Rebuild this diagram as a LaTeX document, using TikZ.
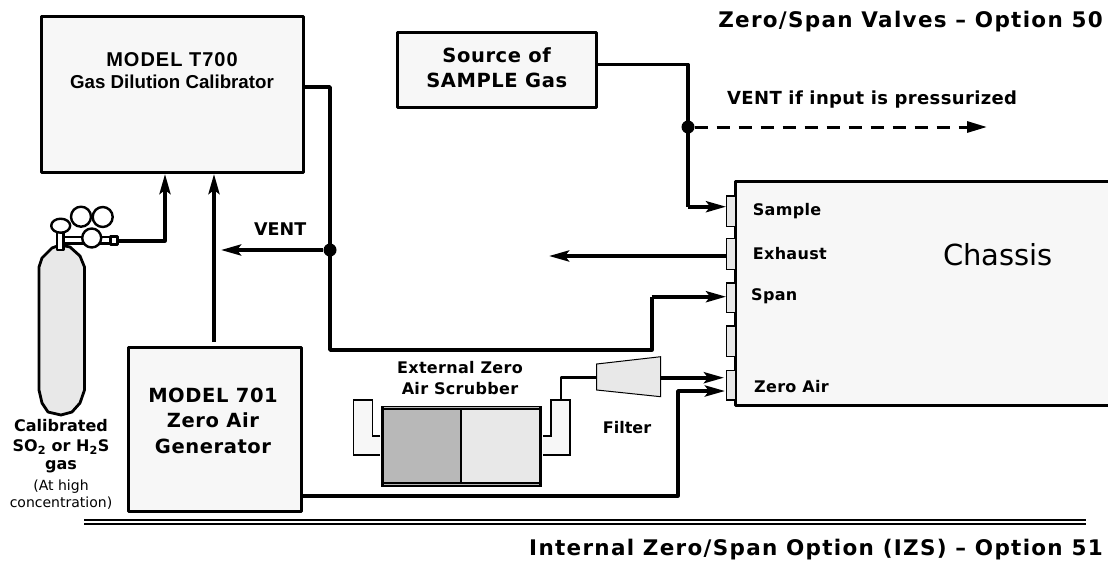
\documentclass[tikz,border=0pt]{standalone}
\usepackage{fontspec}
\setmainfont{DejaVu Sans}
\newfontfamily\arialf{Liberation Sans}
\usetikzlibrary{arrows.meta}
\definecolor{boxfill}{HTML}{F7F7F7}
\definecolor{lightgas}{HTML}{E8E8E8}
\definecolor{darkgas}{HTML}{B8B8B8}
\newcommand{\fs}[1]{\fontsize{#1}{#1}\selectfont}
\newcommand{\ls}[1]{\addfontfeature{LetterSpace=#1}}
\tikzset{
  box/.style={draw=black,line width=3pt,fill=boxfill,inner sep=0pt,line join=round},
  portbox/.style={draw=black,line width=1.3pt,fill=lightgas,inner sep=0pt,minimum width=8.5pt},
  lbl/.style={inner sep=0pt,align=center},
  pipe/.style={draw=black,line width=3.7pt,line join=round},
  flow/.style={pipe,-{Stealth[length=20pt,width=11pt,inset=4pt]}},
  thin pipe/.style={draw=black,line width=2.7pt,line join=round},
  dot/.style={circle,fill=black,inner sep=0pt,minimum size=13pt},
  part/.style={draw=black,line width=2.4pt,fill=white,line join=round},
  small bold/.style={lbl,font=\bfseries\fs{16}\ls{2}},
  big bold/.style={lbl,font=\bfseries\fs{19.5}\ls{3}},
  title text/.style={lbl,anchor=base east,font=\bfseries\fs{21.5}\ls{6}},
}
\begin{document}
\begin{tikzpicture}[x=1pt,y=-1pt]
\useasboundingbox (0,0) rectangle (1108,563);

% boxes
\node[box,minimum width=262pt,minimum height=156pt] (t700) at (172,94.5) {};
\node[box,minimum width=199pt,minimum height=75pt] (source) at (496.7,69.5) {};
\node[box,minimum width=173.5pt,minimum height=164pt] (gen) at (215,429) {};
\node[box,minimum width=400pt,minimum height=224pt] (chassis) at (935,293) {};

% chassis ports
\node[portbox,minimum height=30.5pt] (psample) at (731,211.3) {};
\node[portbox,minimum height=30.5pt] (pexhaust) at (731,254) {};
\node[portbox,minimum height=29.5pt] (pspan) at (731,297.8) {};
\node[portbox,minimum height=30.5pt] (pblank) at (731,341.3) {};
\node[portbox,minimum height=29.5pt] (pzero) at (731,385.3) {};

% scrubber
\path[fill=boxfill,draw=black,line width=1.2pt] (380,436) -- (372.7,436) -- (372.7,400) -- (353.3,400) -- (353.3,455) -- (380,455);
\path[fill=boxfill,draw=black,line width=1.2pt] (543,436) -- (551,436) -- (551,400) -- (570,400) -- (570,455) -- (543,455);
\node[fill=black,minimum width=161.6pt,minimum height=81pt,inner sep=0pt] (scrubber) at (461.5,446.2) {};
\node[fill=darkgas,minimum width=76.5pt,minimum height=71.7pt,inner sep=0pt,anchor=east] (scrubA) at (460.5,445.8) {};
\node[fill=lightgas,minimum width=77pt,minimum height=71.7pt,inner sep=0pt,anchor=west] (scrubB) at (462,445.8) {};
\draw[darkgas,line width=.8pt] (384,407.8) -- (539,407.8) (384,484.2) -- (539,484.2);
\coordinate (scrubout) at (561,400);

% filter
\path[draw=black,line width=1pt,fill=lightgas] (596.7,364) -- (660.7,356.7) -- (660.7,396.7) -- (596.7,390) -- cycle;
\coordinate (filterin) at (596.7,377.7);
\coordinate (filterout) at (660.7,377.7);

% cylinder
\coordinate (regout) at (118,240.7);
\draw[line width=2.8pt,fill=lightgas,line join=round] (39,390) -- (39,267) -- (42,258) -- (52,248) -- (60,245) -- (70,247) -- (80,256) -- (84.5,267) -- (84.5,390) -- (80,403) -- (72,412) -- (61,415) -- (48,412) -- (42,403) -- cycle;
\draw[part] (63,237) rectangle (112,243.5);
\draw[part] (57,230) rectangle (63.5,250);
\draw[part] (60.7,225.7) ellipse (9.5pt and 7pt);
\draw[part] (81,216.7) circle (10pt);
\draw[part] (102.7,217) circle (10pt);
\draw[part] (91.7,238) circle (9.5pt);
\draw[part] (110.5,236.5) rectangle (117.5,244.5);

% connectors
\coordinate (in1) at (165,240.7);
\coordinate (in2) at (214,342);
\draw[flow] (regout) -- (in1) -- (in1 |- t700.south);
\draw[flow] (in2) -- (in2 |- t700.south);
\coordinate (t7out) at (330,87);
\coordinate (spanbend) at (651.7,296.7);
\draw[pipe] (t700.east |- t7out) -- (t7out) -- (330,350) -- (651.7,350) -- (spanbend);
\draw[flow] (spanbend) -- (pspan.west |- spanbend);
\node[dot] (jvent) at (330,250) {};
\draw[flow] (jvent) -- (221,250);
\coordinate (srcout) at (688,64.5);
\coordinate (smpbend) at (688,206.7);
\draw[pipe] (source.east |- srcout) -- (srcout) -- (smpbend);
\draw[flow] (smpbend) -- (psample.west |- smpbend);
\node[dot] (jsample) at (688,127) {};
\coordinate (ventend) at (987,127);
\draw[draw=black,line width=3pt,dash pattern=on 13.5pt off 8.5pt,-{Stealth[length=20pt,width=11pt,inset=0pt]}] (jsample) -- (ventend);
\coordinate (exend) at (549,256);
\draw[flow] (pexhaust.west |- exend) -- (exend);
\draw[thin pipe] (scrubout) -- (561,377.7) -- (filterin);
\draw[flow] (filterout) -- (724,377.7);
\coordinate (genout) at (678,495.7);
\coordinate (zerobend) at (678,391);
\draw[flow] (gen.east |- genout) -- (genout) -- (zerobend) -- (725,391);

% double rule
\draw[line width=2.2pt] (84,520) -- (1086,520);
\draw[line width=2.2pt] (84,524.3) -- (1086,524.3);

% text
\node[lbl,font=\arialf\bfseries\fs{20}\ls{5}] (tA) at (172,59.5) {MODEL T700};
\node[lbl,font=\arialf\bfseries\fs{18.7}] (tB) at (172,82) {Gas Dilution Calibrator};
\node[big bold] (sA) at (496.7,55.5) {Source of};
\node[big bold] (sB) at (496.7,80) {SAMPLE Gas};
\node[big bold] (gA) at (213,395) {MODEL 701};
\node[big bold] (gB) at (213,420) {Zero Air};
\node[big bold] (gC) at (213,446) {Generator};
\node[lbl,font=\bfseries\fs{16}] (c1) at (61,426) {Calibrated};
\node[lbl,font=\bfseries\fs{16}] (c2) at (61,447) {SO\textsubscript{2} or H\textsubscript{2}S};
\node[lbl,font=\bfseries\fs{16}] (c3) at (61,467) {gas};
\node[lbl,font=\fs{14}] (c4) at (61,487) {(At high};
\node[lbl,font=\fs{14}] (c5) at (61,503) {concentration)};
\node[lbl,font=\bfseries\fs{17.5},anchor=west] (vent) at (254,229) {VENT};
\node[lbl,font=\bfseries\fs{18}\ls{2},anchor=west] (ventp) at (727,100) {VENT if input is pressurized};
\node[small bold] (e1) at (460,368) {External Zero};
\node[small bold] (e2) at (460,389) {Air Scrubber};
\node[lbl,font=\bfseries\fs{16}] (fl) at (627,428) {Filter};
\node[small bold,anchor=west] (l1) at (752.7,211) {Sample};
\node[small bold,anchor=west] (l2) at (752.7,254) {Exhaust};
\node[small bold,anchor=west] (l3) at (751,296) {Span};
\node[small bold,anchor=west] (l4) at (754,387) {Zero Air};
\node[inner sep=0pt,font=\fs{29}] (ch) at (998,255) {Chassis};
\node[title text] (t1) at (1103,27.5) {Zero/Span Valves – Option 50};
\node[title text] (t2) at (1103,555.5) {Internal Zero/Span Option (IZS) – Option 51};
\end{tikzpicture}
\end{document}
